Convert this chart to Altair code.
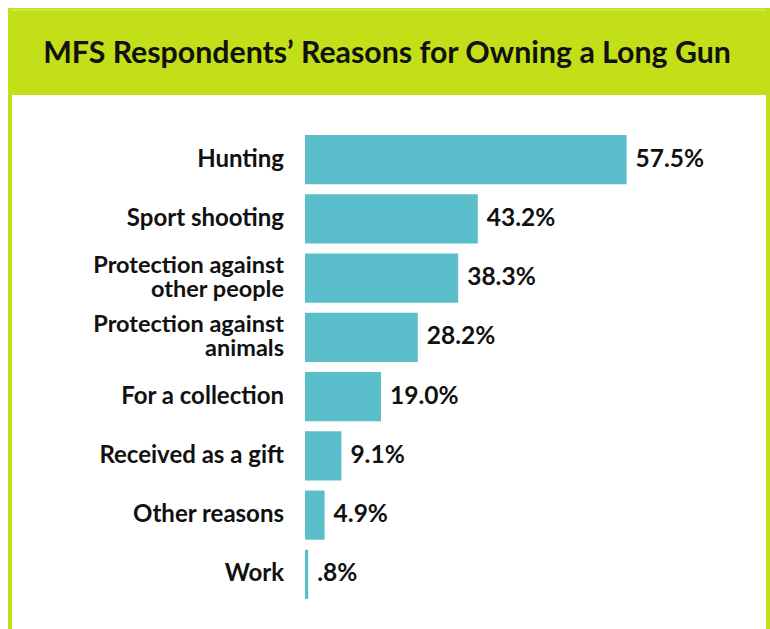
import altair as alt
import pandas as pd

# ---- data ----
title_text = "MFS Respondents\u2019 Reasons for Owning a Long Gun"
categories = [
    "Hunting",
    "Sport shooting",
    "Protection against other people",
    "Protection against animals",
    "For a collection",
    "Received as a gift",
    "Other reasons",
    "Work",
]
label_line1 = ["Hunting", "Sport shooting", "Protection against", "Protection against",
               "For a collection", "Received as a gift", "Other reasons", "Work"]
label_line2 = ["", "", "other people", "animals", "", "", "", ""]
value_labels = ["57.5%", "43.2%", "38.3%", "28.2%", "19.0%", "9.1%", "4.9%", ".8%"]
# bar lengths as drawn in the picture (same scale for all bars)
bar_lengths = [80.4, 43.2, 38.3, 28.2, 19.0, 9.1, 4.9, 0.8]

GREEN = "#C2DF17"
TEAL = "#5BBECB"
INK = "#111111"
FONT = "Lato"

df = pd.DataFrame({
    "cat": categories, "len": bar_lengths, "lab": value_labels,
    "l1": label_line1, "l2": label_line2,
})
one = pd.DataFrame({"k": [0]})
tdf = pd.DataFrame({"t": [title_text]})

y_enc = alt.Y(
    "cat:N",
    sort=categories,
    scale=alt.Scale(paddingInner=0.17, paddingOuter=0.085),
    axis=None,
)
x_enc = alt.X("len:Q", scale=alt.Scale(domain=[0, 100]), axis=None)

bars = alt.Chart(df).mark_bar(color=TEAL).encode(x=x_enc, y=y_enc)
labels = alt.Chart(df).mark_text(
    align="left", baseline="middle", dx=9, font=FONT, fontWeight="bold",
    fontSize=24.5, color=INK,
).encode(x=x_enc, y=y_enc, text="lab:N")

def cat_style(size):
    return dict(align="right", baseline="middle", font=FONT, fontWeight="bold",
                fontSize=size, color=INK)

cat_single = alt.Chart(df).transform_filter("datum.l2 == ''").mark_text(
    **cat_style(24)).encode(x=alt.value(-21), y=y_enc, text="l1:N")
cat_first = alt.Chart(df).transform_filter("datum.l2 != ''").mark_text(
    dy=-12.5, **cat_style(23.5)).encode(x=alt.value(-21), y=y_enc, text="l1:N")
cat_second = alt.Chart(df).transform_filter("datum.l2 != ''").mark_text(
    dy=11.5, **cat_style(23.5)).encode(x=alt.value(-21), y=y_enc, text="l2:N")

# frame (plot origin is at canvas x=305, y=130)
band = alt.Chart(one).mark_rect(color=GREEN).encode(
    x=alt.value(-297), x2=alt.value(465), y=alt.value(-122), y2=alt.value(-35))
top_line = alt.Chart(one).mark_rect(color="#DCEE86").encode(
    x=alt.value(-297), x2=alt.value(461), y=alt.value(-120.5), y2=alt.value(-119.5))
left_border = alt.Chart(one).mark_rect(color=GREEN).encode(
    x=alt.value(-297), x2=alt.value(-293), y=alt.value(-122), y2=alt.value(499))
right_border = alt.Chart(one).mark_rect(color=GREEN).encode(
    x=alt.value(461), x2=alt.value(465), y=alt.value(-122), y2=alt.value(499))
title = alt.Chart(tdf).mark_text(
    align="center", baseline="alphabetic", font=FONT, fontWeight="bold",
    fontSize=30.3, color=INK,
).encode(x=alt.value(82), y=alt.value(-67), text="t:N")

chart = alt.layer(
    band, top_line, left_border, right_border, title, bars, labels,
    cat_single, cat_first, cat_second,
).properties(
    width=400, height=474,
    padding={"left": 305, "top": 130, "right": 65, "bottom": 25},
    autosize=alt.AutoSizeParams(type="none"),
    background="white",
).configure_view(strokeWidth=0)

chart.save("out.html", embed_options={"renderer": "svg", "actions": False})
